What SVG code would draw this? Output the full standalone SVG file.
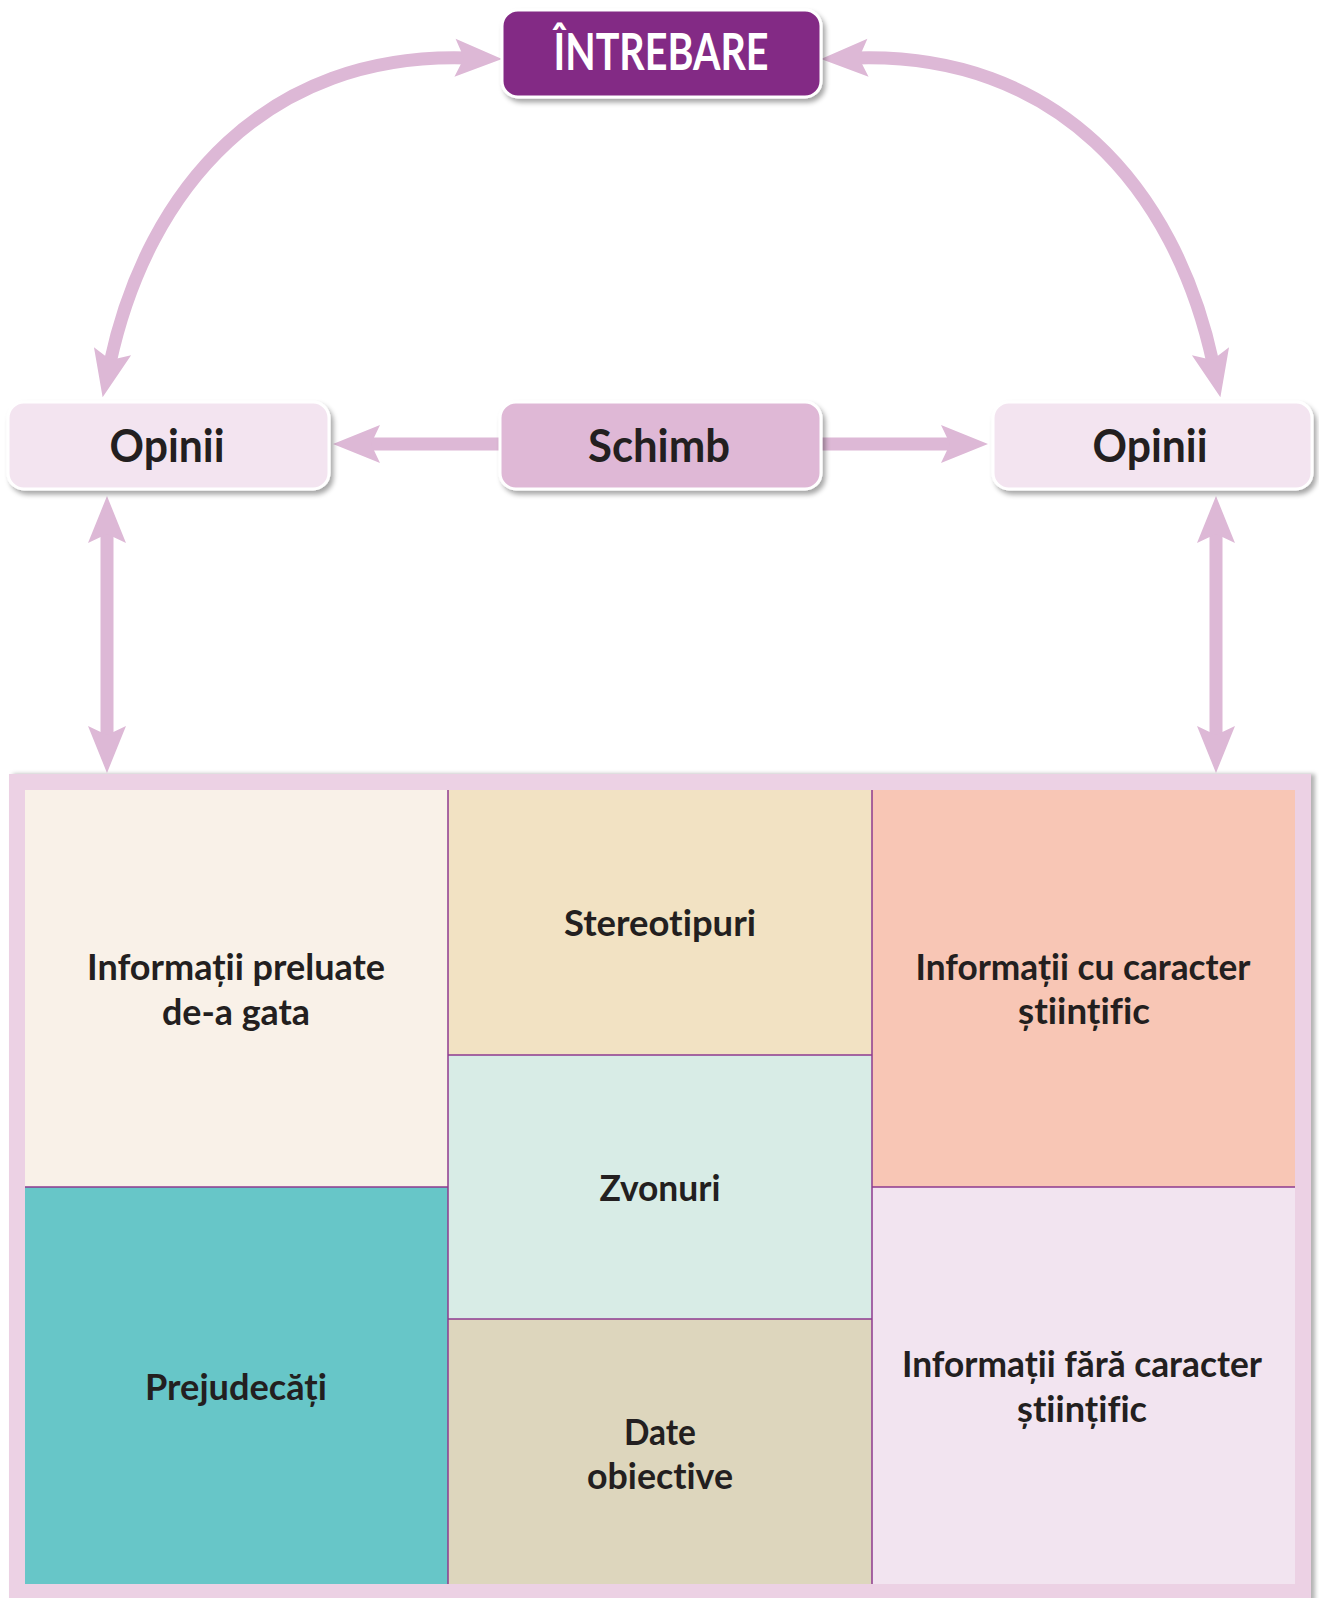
<svg xmlns="http://www.w3.org/2000/svg" width="1319" height="1598" viewBox="0 0 1319 1598">
<style>
.conn{fill:none;stroke:#ddb8d6;stroke-width:13;marker-start:url(#ah);marker-end:url(#ah)}
.one{marker-start:none}
.node{stroke:#fff;stroke-width:3;filter:url(#sh)}
.t{font-family:Lato,"Open Sans","Liberation Sans",sans-serif;font-weight:700;fill:#231f20;text-anchor:middle;font-variant-ligatures:none}
.big{font-size:45px}
.cell{font-size:36px}
.div{stroke:#8e3a8f;stroke-width:1.5}
</style>
<defs>
<filter id="sh" x="-10%" y="-20%" width="130%" height="150%">
<feDropShadow dx="3" dy="4" stdDeviation="2.5" flood-color="#000" flood-opacity="0.35"/>
</filter>
<filter id="fsh" x="-5%" y="-5%" width="110%" height="110%">
<feDropShadow dx="4" dy="0" stdDeviation="2" flood-color="#000" flood-opacity="0.3"/>
</filter>
<marker id="ah" markerUnits="userSpaceOnUse" viewBox="-2 -22 52 44" markerWidth="52" markerHeight="44" refX="12" refY="0" orient="auto-start-reverse">
<path d="M0,-19 L47,0 L0,19 L9,0 z" fill="#ddb8d6"/>
</marker>
</defs>
<rect width="1319" height="1598" fill="#fff"/>

<g id="connectors">
<path class="conn" d="M110,363 C148,187 267,52 467,58"/>
<path class="conn" d="M1213,363 C1175,187 1056,52 856,58"/>
<path class="conn one" d="M505,444 L368,444"/>
<path class="conn one" d="M815,444 L953,444"/>
<path class="conn" d="M107,531 L107,738"/>
<path class="conn" d="M1216,531 L1216,738"/>
</g>

<g id="intrebare">
<rect class="node" x="502" y="10" width="319" height="87" rx="16" fill="#832985"/>
<text class="t" x="661" y="70" font-size="51" style="fill:#fff" textLength="215" lengthAdjust="spacingAndGlyphs">ÎNTREBARE</text>
</g>
<g id="opinii-stanga">
<rect class="node" x="8" y="402" width="321" height="87" rx="16" fill="#f3e4f0"/>
<text class="t big" x="167" y="462" textLength="115" lengthAdjust="spacingAndGlyphs">Opinii</text>
</g>
<g id="schimb">
<rect class="node" x="500" y="402" width="321" height="87" rx="16" fill="#dfb8d6"/>
<text class="t big" x="659" y="462" textLength="142" lengthAdjust="spacingAndGlyphs">Schimb</text>
</g>
<g id="opinii-dreapta">
<rect class="node" x="993" y="402" width="319" height="87" rx="16" fill="#f3e4f0"/>
<text class="t big" x="1150" y="462" textLength="115" lengthAdjust="spacingAndGlyphs">Opinii</text>
</g>

<g id="cadru">
<rect x="9" y="774" width="1302" height="830" fill="#ecd1e4" filter="url(#fsh)"/>
</g>

<g id="informatii-preluate">
<rect x="25" y="790" width="423" height="397" fill="#f9f1e8"/>
<text class="t cell" x="236" y="980" textLength="298" lengthAdjust="spacingAndGlyphs">Informații preluate</text>
<text class="t cell" x="236" y="1025" textLength="148" lengthAdjust="spacingAndGlyphs">de-a gata</text>
</g>
<g id="prejudecati">
<rect x="25" y="1187" width="423" height="397" fill="#67c6c8"/>
<text class="t cell" x="236" y="1400" textLength="182" lengthAdjust="spacingAndGlyphs">Prejudecăți</text>
</g>
<g id="stereotipuri">
<rect x="448" y="790" width="424" height="265" fill="#f2e2c3"/>
<text class="t cell" x="660" y="936" textLength="192" lengthAdjust="spacingAndGlyphs">Stereotipuri</text>
</g>
<g id="zvonuri">
<rect x="448" y="1055" width="424" height="264" fill="#d8ece6"/>
<text class="t cell" x="660" y="1201" textLength="121" lengthAdjust="spacingAndGlyphs">Zvonuri</text>
</g>
<g id="date-obiective">
<rect x="448" y="1319" width="424" height="265" fill="#ddd6bd"/>
<text class="t cell" x="660" y="1445" textLength="72" lengthAdjust="spacingAndGlyphs">Date</text>
<text class="t cell" x="660" y="1489" textLength="146" lengthAdjust="spacingAndGlyphs">obiective</text>
</g>
<g id="informatii-stiintific">
<rect x="872" y="790" width="423" height="397" fill="#f8c6b5"/>
<text class="t cell" x="1083" y="980" textLength="335" lengthAdjust="spacingAndGlyphs">Informații cu caracter</text>
<text class="t cell" x="1084" y="1024" textLength="132" lengthAdjust="spacingAndGlyphs">științific</text>
</g>
<g id="informatii-nestiintific">
<rect x="872" y="1187" width="423" height="397" fill="#f2e4f0"/>
<text class="t cell" x="1082" y="1377" textLength="360" lengthAdjust="spacingAndGlyphs">Informații fără caracter</text>
<text class="t cell" x="1082" y="1422" textLength="130" lengthAdjust="spacingAndGlyphs">științific</text>
</g>
<g id="separatoare">
<line class="div" x1="448" y1="790" x2="448" y2="1584"/>
<line class="div" x1="872" y1="790" x2="872" y2="1584"/>
<line class="div" x1="25" y1="1187" x2="448" y2="1187"/>
<line class="div" x1="448" y1="1055" x2="872" y2="1055"/>
<line class="div" x1="448" y1="1319" x2="872" y2="1319"/>
<line class="div" x1="872" y1="1187" x2="1295" y2="1187"/>
</g>
</svg>
